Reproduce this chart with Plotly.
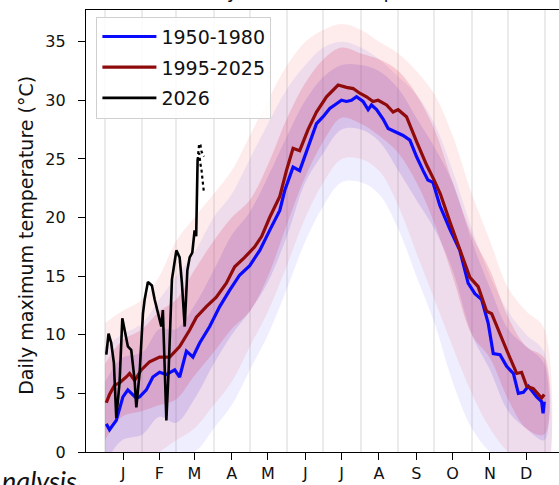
import plotly.graph_objects as go

# ---- day-of-year axis -------------------------------------------------------
month_starts = [1, 32, 60, 91, 121, 152, 182, 213, 244, 274, 305, 335, 366]
month_mids = [16, 46, 75, 106, 136, 167, 197, 228, 259, 289, 320, 350]
month_labels = ["J", "F", "M", "A", "M", "J", "J", "A", "S", "O", "N", "D"]
temp_ticks = [0, 5, 10, 15, 20, 25, 30, 35]

# ---- mean daily maximum, 1950-1980 -----------------------------------------
base_doy = [2, 4.7, 10.3, 15.8, 19.9, 26.9, 29.6, 35.2, 40.6, 46.2, 51.8, 58.7,
            62.8, 68.4, 73.8, 79.4, 87.7, 96.0, 104.3, 112.6, 120.9, 129.2,
            137.4, 145.8, 149.9, 156.8, 162.3, 169.2, 176.2, 181.7, 187.2,
            192.8, 196.9, 201.1, 205.2, 209.4, 214.8, 219.0, 221.8, 226.0,
            231.4, 235.6, 241.1, 248.0, 253.6, 259.1, 264.6, 268.5, 272.7,
            278.5, 286.8, 295.0, 301.9, 307.5, 313.1, 318.5, 322.7, 328.3,
            333.8, 339.4, 343.5, 347.7, 351.8, 358.7, 362.8, 364, 365]
base_tmax = [2.4, 1.9, 2.7, 4.7, 5.3, 4.6, 4.7, 5.3, 6.4, 6.8, 6.6, 7.0,
             6.4, 8.6, 8.1, 9.3, 10.7, 12.4, 13.8, 15.1, 15.9, 17.2,
             18.9, 20.6, 22.3, 24.3, 24.0, 26.0, 28.0, 28.6, 29.3,
             29.7, 30.0, 29.9, 30.0, 30.3, 29.9, 29.2, 29.6, 29.2,
             28.4, 27.6, 27.3, 27.0, 26.6, 25.2, 24.0, 23.2, 23.0,
             21.0, 19.0, 17.2, 14.4, 13.5, 13.0, 11.0, 8.4, 8.3,
             7.3, 6.7, 5.0, 5.1, 5.6, 4.7, 4.3, 3.3, 4.3]

# ---- mean daily maximum, 1995-2025 -----------------------------------------
recent_doy = [2, 4.7, 8.9, 13.0, 18.6, 21.3, 25.5, 31.0, 37.9, 46.2, 54.5,
              62.8, 71.1, 76.7, 84.9, 93.2, 101.5, 108.4, 116.7, 125.0, 130.8,
              137.4, 145.8, 151.3, 156.8, 162.3, 169.2, 176.2, 184.5, 194.1,
              201.1, 206.6, 212.1, 217.7, 223.1, 227.3, 234.3, 239.7, 243.9,
              250.8, 259.1, 267.4, 273.2, 278.9, 287.2, 295.0, 303.3, 310.2,
              317.2, 321.4, 326.8, 333.8, 342.1, 346.2, 350.4, 355.9, 362.8, 365]
recent_tmax = [4.2, 4.9, 5.7, 5.9, 6.4, 6.7, 6.1, 7.0, 7.7, 8.1, 8.1,
               9.0, 10.4, 11.5, 12.4, 13.2, 14.4, 15.8, 16.6, 17.5, 18.4,
               20.0, 21.8, 24.0, 25.9, 25.7, 27.5, 29.0, 30.3, 31.3,
               31.1, 31.0, 30.6, 30.3, 29.9, 30.0, 29.6, 29.0, 29.2,
               28.6, 26.5, 24.5, 23.3, 22.0, 19.5, 17.2, 14.9, 14.1,
               12.0, 11.8, 10.4, 8.7, 6.7, 6.8, 5.6, 5.4, 4.6, 4.9]

# ---- 2026 observations and short-range forecasts ---------------------------
obs_doy = [2, 3.9, 6.1, 8.3, 10.3, 13.0, 15.3, 17.2, 19.9, 22.7, 25.5, 26.9,
           29.6, 32.4, 33.8, 36.5, 39.8, 42.1, 44.8, 47.6, 48.9, 50.4, 51.8,
           53.7, 56.4, 60.1, 62.8, 64.7, 67.0, 69.2, 71.1, 73.3, 75.2, 76.5, 77.7]
obs_tmax = [8.3, 10.1, 9.3, 7.6, 2.9, 5.9, 11.4, 10.4, 9.0, 8.7, 6.1, 3.8,
            6.7, 11.8, 13.0, 14.5, 14.2, 13.0, 11.8, 10.7, 12.1, 7.6, 2.7,
            7.0, 14.7, 17.2, 16.6, 14.4, 10.7, 15.5, 16.6, 17.0, 18.9, 18.4, 24.9]
fc_doy = [77.7, 79, 80, 81, 82, 83]
fc_a_tmax = [24.9, 26.3, 26.2, 25.6, 25.4, 25.2]
fc_b_tmax = [24.9, 25.5, 24.6, 24.0, 23.0, 22.1]

# ---- spread of individual years (envelopes) --------------------------------
env_doy = [1, 15, 32, 46, 60, 75, 91, 106, 121, 136, 152, 167, 182, 197, 213,
           228, 244, 259, 274, 289, 305, 320, 335, 350, 365]
recent_outer_hi = [11, 12, 13, 15, 18, 20, 22, 24, 27, 30, 33, 35, 36, 36.5, 36,
                   35, 34, 32.5, 30.5, 27, 22, 18, 14, 12, 10.5]
recent_outer_lo = [-2, -1, -1, 0, 1, 2, 4, 6, 9, 12, 16, 20, 23, 25, 25,
                   24, 21, 17, 13, 9, 5, 2, 0, -1, -2]
recent_inner_hi = [7.5, 9.5, 10.5, 12, 13, 15.5, 18, 20, 21.5, 24.5, 28.5, 31.5,
                   33.5, 34.5, 34, 33.5, 32.5, 30.5, 27.5, 23, 18.5, 15.5, 11.5, 9, 8]
recent_inner_lo = [1, 3, 3.5, 4, 4.5, 6.5, 8.5, 10.5, 12, 15, 19.5, 23.5, 26.5,
                   28.5, 28, 27, 25.5, 23, 19.5, 15, 10, 8, 4.5, 2, 1.5]
base_outer_hi = [9, 10, 11, 13, 15, 17, 20, 22, 25, 28, 31, 33, 34.5, 35, 34.5,
                 33.5, 32, 30.5, 28, 24, 19, 15, 12, 10, 8.5]
base_outer_lo = [-3, -2, -2, -1, 0, 0, 2, 4, 7, 10, 14, 18, 21, 23, 23,
                 22, 19, 15, 11, 6, 2, 0, -1, -2, -3]
base_inner_hi = [6, 8, 8.5, 10.5, 10.5, 12.5, 15.5, 18.5, 20.5, 23.5, 27, 30, 32,
                 33, 33, 32.5, 31, 28.5, 26, 23, 18, 14, 10.5, 9, 7.5]
base_inner_lo = [-1, 1, 1.5, 3, 2.5, 4.5, 7.5, 10, 12, 14.5, 18.5, 23, 25.5, 27.5,
                 27.5, 26.5, 24, 21.5, 19, 15.5, 10, 7, 3.5, 2, 1]

FONT = "DejaVu Sans"
fig = go.Figure()


def band(lo, hi, color):
    fig.add_trace(go.Scatter(
        x=env_doy + env_doy[::-1], y=hi + lo[::-1], fill="toself",
        fillcolor=color, line=dict(width=0), mode="lines",
        line_shape="spline", hoverinfo="skip", showlegend=False))


band(base_outer_lo, base_outer_hi, "rgba(90,90,255,0.10)")
band(base_inner_lo, base_inner_hi, "rgba(70,60,240,0.15)")
band(recent_outer_lo, recent_outer_hi, "rgba(245,70,80,0.11)")
band(recent_inner_lo, recent_inner_hi, "rgba(220,40,80,0.18)")

fig.add_trace(go.Scatter(x=base_doy, y=base_tmax, mode="lines", name="1950-1980",
                         line=dict(color="#0a0aff", width=3.2), legendgroup="a"))
fig.add_trace(go.Scatter(x=recent_doy, y=recent_tmax, mode="lines", name="1995-2025",
                         line=dict(color="#8f0a0a", width=3.2), legendgroup="b"))
fig.add_trace(go.Scatter(x=obs_doy, y=obs_tmax, mode="lines", name="2026",
                         line=dict(color="black", width=2.6), legendgroup="c"))
for fc in (fc_a_tmax, fc_b_tmax):
    fig.add_trace(go.Scatter(x=fc_doy, y=fc, mode="lines", showlegend=False,
                             line=dict(color="black", width=2.2, dash="dot")))

fig.update_layout(
    width=559, height=485, autosize=False,
    margin=dict(l=86, r=0, t=10, b=33),
    paper_bgcolor="white", plot_bgcolor="white",
    font=dict(family=FONT, size=16, color="#111111"),
    showlegend=True,
    legend=dict(x=0.022, y=0.985, xanchor="left", yanchor="top",
                bgcolor="rgba(255,255,255,0.85)", bordercolor="#d0d0d0",
                borderwidth=1, font=dict(family=FONT, size=19, color="#111111"),
                tracegroupgap=3, itemwidth=54),
    xaxis=dict(range=[-14.8, 377.2], tickmode="array", tickvals=month_mids,
               ticktext=month_labels, ticks="outside", ticklen=7, tickwidth=1.2,
               tickcolor="black", showgrid=False, zeroline=False,
               showline=True, linecolor="black", linewidth=1.2, mirror=True,
               minor=dict(tickmode="array", tickvals=month_starts, showgrid=True,
                          gridcolor="#ebebeb", gridwidth=1.5, ticks="")),
    yaxis=dict(range=[0, 37.7], tickmode="array", tickvals=temp_ticks,
               ticks="outside", ticklen=7, tickwidth=1.2, tickcolor="black",
               showgrid=False, zeroline=False, showline=True,
               linecolor="black", linewidth=1.2, ticklabelstandoff=9),
    annotations=[
        dict(text="Daily maximum temperature (°C)", textangle=-90,
             xref="paper", yref="paper", x=-0.126, y=0.49,
             xanchor="center", yanchor="middle", showarrow=False,
             font=dict(family=FONT, size=19, color="#111111")),
        dict(text="Daily maximum temperature", xref="paper", yref="paper",
             x=0.51, y=1.043, xanchor="center", yanchor="middle",
             showarrow=False, font=dict(family=FONT, size=19, color="#111111")),
        dict(text="<i>Analysis</i>", xref="paper", yref="paper",
             x=-0.0138, y=-0.022, xanchor="right", yanchor="top",
             showarrow=False, font=dict(family="Lato", size=27, color="#111111")),
    ],
)

fig.write_html("out.html")
